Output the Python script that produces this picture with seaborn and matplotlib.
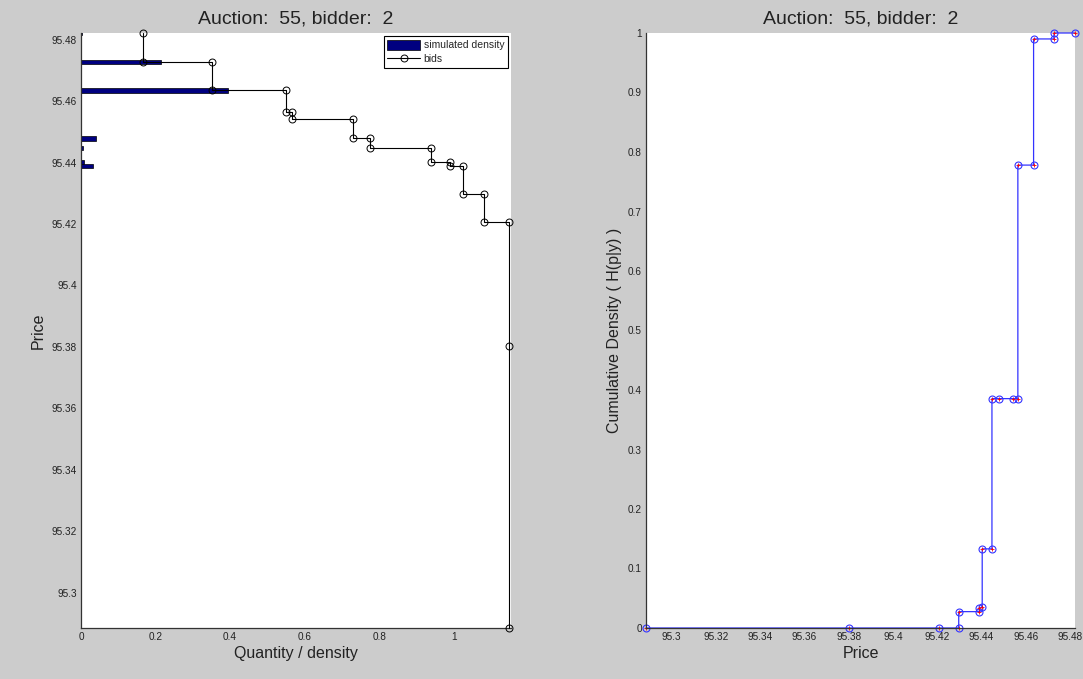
import seaborn as sns
import matplotlib
matplotlib.use("Agg")
import matplotlib.pyplot as plt
import numpy as np
import pandas as pd
from matplotlib.patches import Patch
from matplotlib.lines import Line2D

# bids: step curve (quantity vs price)
bid_quantity = [0.167, 0.167, 0.351, 0.351, 0.550, 0.550, 0.565, 0.565, 0.731, 0.731,
                0.775, 0.775, 0.939, 0.939, 0.991, 0.991, 1.024, 1.024, 1.082, 1.082,
                1.149, 1.149, 1.149]
bid_price = [95.4822, 95.4727, 95.4727, 95.4635, 95.4635, 95.4564, 95.4564, 95.4541, 95.4541, 95.4479,
             95.4479, 95.4447, 95.4447, 95.4403, 95.4403, 95.4390, 95.4390, 95.4297, 95.4297, 95.4206,
             95.4206, 95.3802, 95.2885]

# simulated density (horizontal bars)
density_price = [95.4822, 95.4727, 95.4635, 95.4479, 95.4447, 95.4403, 95.4390]
density_value = [0.004, 0.214, 0.394, 0.039, 0.006, 0.008, 0.033]

# cumulative density H(p|y)
cdf_price = [95.2885, 95.3802, 95.4206, 95.4297, 95.4297, 95.4390, 95.4390, 95.4403, 95.4403, 95.4447,
             95.4447, 95.4479, 95.4541, 95.4564, 95.4564, 95.4635, 95.4635, 95.4727, 95.4727, 95.4822]
cdf_value = [0, 0, 0, 0, 0.0275, 0.0275, 0.033, 0.036, 0.133, 0.133,
             0.3855, 0.3855, 0.3855, 0.3855, 0.778, 0.778, 0.99, 0.99, 1.0, 1.0]

price_ticks = [95.30, 95.32, 95.34, 95.36, 95.38, 95.40, 95.42, 95.44, 95.46, 95.48]
title = "Auction:  55, bidder:  2"

sns.set_style("white")
plt.rcParams['font.family'] = ['Liberation Sans', 'DejaVu Sans']

fig = plt.figure(figsize=(10.83, 6.79), dpi=100, facecolor='#cccccc')
ax1 = fig.add_axes([81 / 1083, 51 / 679, 430 / 1083, 595 / 679])
ax2 = fig.add_axes([646 / 1083, 51 / 679, 429 / 1083, 595 / 679])

pmin, pmax = min(bid_price), max(bid_price)

# left panel
ax1.barh(density_price, density_value, height=0.0014, color='#000080',
         edgecolor='black', linewidth=0.5, zorder=2)
bids = pd.DataFrame({'q': bid_quantity, 'p': bid_price})
sns.lineplot(data=bids, x='q', y='p', sort=False, estimator=None, ax=ax1,
             color='black', linewidth=0.8, marker='o', markersize=5,
             markerfacecolor='none', markeredgecolor='black', markeredgewidth=0.7,
             zorder=3, clip_on=False)
ax1.set_xlim(0, 1.154)
ax1.set_ylim(pmin, pmax)
ax1.set_xticks([0, 0.2, 0.4, 0.6, 0.8, 1])
ax1.set_xticklabels(['0', '0.2', '0.4', '0.6', '0.8', '1'])
ax1.set_yticks(price_ticks)
ax1.set_yticklabels(['%g' % t for t in price_ticks])
ax1.set_xlabel('Quantity / density', fontsize=11.5, color='#222222', labelpad=3)
ax1.set_ylabel('Price', fontsize=11.5, color='#222222')
ax1.set_title(title, fontsize=14, color='#222222', pad=7)
handles = [Patch(facecolor='#000080', edgecolor='black', linewidth=0.5),
           Line2D([], [], color='black', linewidth=0.8, marker='o', markersize=5,
                  markerfacecolor='none', markeredgewidth=0.7)]
leg = ax1.legend(handles, ['simulated density', 'bids'], loc='upper right', fontsize=7.5,
                 frameon=True, fancybox=False, edgecolor='black', framealpha=1,
                 borderaxespad=0.3, handlelength=3.2, handleheight=1.1,
                 handletextpad=0.3, labelspacing=0.35, borderpad=0.35)
leg.get_frame().set_linewidth(0.8)

# right panel
cdf = pd.DataFrame({'p': cdf_price, 'h': cdf_value})
sns.lineplot(data=cdf, x='p', y='h', sort=False, estimator=None, ax=ax2,
             color='#3333ff', linewidth=0.9, marker='o', markersize=5,
             markerfacecolor='none', markeredgecolor='#3333ff', markeredgewidth=0.8,
             clip_on=False)
ax2.plot(cdf_price, cdf_value, linestyle='none', marker='+', markersize=3,
         color='red', markeredgewidth=0.6, clip_on=False)
ax2.set_xlim(pmin, pmax)
ax2.set_ylim(0, 1)
ax2.set_xticks(price_ticks)
ax2.set_xticklabels(['%g' % t for t in price_ticks])
yt = np.round(np.arange(0, 1.01, 0.1), 1)
ax2.set_yticks(yt)
ax2.set_yticklabels(['%g' % t for t in yt])
ax2.set_xlabel('Price', fontsize=11.5, color='#222222', labelpad=3)
ax2.set_ylabel('Cumulative Density ( H(p|y) )', fontsize=11.5, color='#222222')
ax2.set_title(title, fontsize=14, color='#222222', pad=7)

for ax in (ax1, ax2):
    ax.set_facecolor('white')
    for s in ('top', 'right'):
        ax.spines[s].set_visible(False)
    for s in ('left', 'bottom'):
        ax.spines[s].set_color('#333333')
        ax.spines[s].set_linewidth(0.9)
    ax.tick_params(direction='in', length=4, width=0.8, labelsize=7.2,
                   colors='#333333', labelcolor='#222222', pad=3)
    ax.grid(False)

fig.savefig('out.png', dpi=100, facecolor=fig.get_facecolor())
